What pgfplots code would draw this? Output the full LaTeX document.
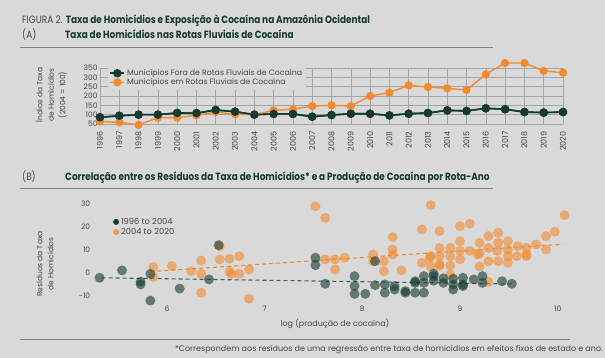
\documentclass[border=0pt]{standalone}
\usepackage{fontspec}
\setmainfont{Poppins}
\newfontfamily\headfont{Poppins}[FakeStretch=0.85]
\usepackage{pgfplots}
\pgfplotsset{compat=1.18}
\definecolor{bg}{RGB}{217,217,217}
\definecolor{dkg}{RGB}{22,58,51}
\definecolor{org}{RGB}{242,138,46}
\definecolor{txt}{RGB}{70,70,70}
\definecolor{gridc}{RGB}{165,165,165}
\definecolor{rulec}{RGB}{130,130,130}
\begin{document}
\begin{tikzpicture}[x=1pt,y=1pt]
\fill[bg] (0,0) rectangle (605,358);
% titles
\node[anchor=base west,inner sep=0,font=\headfont\fontsize{10.5}{12}\selectfont] at (22,334) {\textcolor{txt}{FIGURA 2.} \textcolor{dkg}{\bfseries Taxa de Homicídios e Exposição à Cocaína na Amazônia Ocidental}};
\node[anchor=base west,inner sep=0,font=\headfont\fontsize{10.5}{12}\selectfont,text=txt] at (22,319) {(A)};
\node[anchor=base west,inner sep=0,font=\headfont\fontsize{10.5}{12}\selectfont\bfseries,text=dkg] at (65,319) {Taxa de Homicídios nas Rotas Fluviais de Cocaína};
\draw[rulec,line width=0.7pt] (20,311) -- (493,311);
\node[anchor=base west,inner sep=0,font=\headfont\fontsize{10.5}{12}\selectfont,text=txt] at (22,177.5) {(B)};
\node[anchor=base west,inner sep=0,font=\headfont\fontsize{10.5}{12}\selectfont\bfseries,text=dkg] at (65,177.5) {Correlação entre os Resíduos da Taxa de Homicídios* e a Produção de Cocaína por Rota-Ano};
\draw[rulec,line width=0.7pt] (20,169.5) -- (493,169.5);
\draw[rulec,line width=0.7pt] (20,19) -- (570,19);
\node[anchor=base east,inner sep=0,font=\fontsize{8}{9}\selectfont,text=txt] at (603,6) {*Correspondem aos resíduos de uma regressão entre taxa de homicídios em efeitos fixos de estado e ano.};
\node[font=\fontsize{8}{9}\selectfont,text=txt] at (335,34) {log (produção de cocaína)};
\node[rotate=90,align=center,font=\fontsize{7.5}{11.5}\selectfont,text=txt] at (51,263) {Índice da Taxa\\de Homicídios\\(2004 = 100)};
\node[rotate=90,align=center,font=\fontsize{7.5}{11}\selectfont,text=txt] at (45,94) {Resíduos da Taxa\\de Homicídios};

% Panel A
\begin{axis}[at={(100pt,234pt)},anchor=south west,scale only axis,
  width=463pt,height=56pt,xmin=1996,xmax=2020,ymin=50,ymax=350,
  xtick={1996,...,2020},ytick={50,100,...,350},
  grid=major,major grid style={gridc,line width=0.5pt},
  axis line style={draw=none},major tick length=0pt,clip=false,
  /pgf/number format/assume math mode=true,
  xticklabel shift=4pt,
  x tick label style={/pgf/number format/1000 sep={},rotate=90,anchor=east,font=\fontsize{8}{8}\selectfont,text=txt},
  y tick label style={font=\fontsize{7.5}{8}\selectfont,text=txt,xshift=1pt},
  legend style={at={(0.017,1.04)},anchor=north west,fill=bg,draw=none,
    font=\fontsize{7.8}{9}\selectfont,text=txt,inner sep=1.5pt,row sep=-2.5pt,
    /tikz/every even column/.append style={column sep=2pt}},
  legend cell align=left,
  legend image code/.code={\draw[mark repeat=2,mark phase=2,#1] plot coordinates {(0pt,0pt) (7pt,0pt) (14pt,0pt)};},
]
\addplot[dkg,line width=1.6pt,mark=*,mark size=3.4pt] coordinates {
(1996,86)(1997,94)(1998,100)(1999,100)(2000,109)(2001,108)(2002,125)(2003,116)(2004,100)(2005,104)(2006,104)(2007,89)(2008,98)(2009,105)(2010,105)(2011,96)(2012,105)(2013,109)(2014,123)(2015,120)(2016,134)(2017,129)(2018,114)(2019,111)(2020,114)};
\addlegendentry{Municípios Fora de Rotas Fluviais de Cocaína}
\addplot[org,line width=1.4pt,mark=*,mark size=3.4pt] coordinates {
(1996,63)(1997,59)(1998,45)(1999,84)(2000,84)(2001,96)(2002,114)(2003,102)(2004,100)(2005,123)(2006,129)(2007,146)(2008,150)(2009,146)(2010,200)(2011,218)(2012,257)(2013,248)(2014,241)(2015,232)(2016,316)(2017,377)(2018,377)(2019,334)(2020,325)};
\addlegendentry{Municípios em Rotas Fluviais de Cocaína}
\addplot[dkg,line width=1.6pt,mark=*,mark size=3.4pt,forget plot] coordinates {
(1996,86)(1997,94)(1998,100)(1999,100)(2000,109)(2001,108)(2002,125)(2003,116)(2004,100)(2005,104)(2006,104)(2007,89)(2008,98)(2009,105)(2010,105)(2011,96)(2012,105)(2013,109)(2014,123)(2015,120)(2016,134)(2017,129)(2018,114)(2019,111)(2020,114)};
\end{axis}

% Panel B
\begin{axis}[at={(93.7pt,55.6pt)},anchor=south west,scale only axis,
  width=478.7pt,height=98.9pt,xmin=5.25,xmax=10.15,ymin=-13,ymax=30,
  xtick={6,7,8,9,10},ytick={-10,0,10,20,30},
  axis line style={draw=none},major tick length=0pt,clip=false,
  /pgf/number format/assume math mode=true,
  x tick label style={font=\fontsize{7.5}{8}\selectfont,text=txt},
  y tick label style={font=\fontsize{7.5}{8}\selectfont,text=txt},
  legend style={at={(0.038,0.885)},anchor=north west,fill=none,draw=none,
    font=\fontsize{8.3}{9}\selectfont,text=txt,inner sep=1pt,row sep=-1.5pt},
  legend cell align=left,
]
\addlegendimage{only marks,mark=*,mark size=3pt,color=dkg,mark options={draw opacity=0}}
\addlegendentry{1996 to 2004}
\addlegendimage{only marks,mark=*,mark size=3pt,color=org,mark options={draw opacity=0,fill opacity=0.85}}
\addlegendentry{2004 to 2020}
\addplot[only marks,mark=*,mark size=5pt,color=org,mark options={fill opacity=0.6,draw opacity=0},forget plot] coordinates {
(5.86,2.3)(5.86,-2.0)(6.05,2.8)(6.25,0.6)(6.35,5.2)(6.35,-0.6)(6.35,-8.8)(6.54,11.4)(6.54,5.7)(6.64,6.0)(6.64,0.3)(6.66,-0.6)(6.74,7.1)(6.74,-0.6)(6.84,1.3)(6.84,-11.4)
(7.52,28.8)(7.62,23.8)(7.62,5.7)(7.72,5.7)(7.72,1.3)(7.82,6.4)(8.11,7.8)(8.11,4.9)(8.22,4.9)(8.22,0.6)(8.31,15.4)(8.31,10.0)(8.31,7.8)(8.40,0.9)
(8.61,18.7)(8.61,4.2)(8.70,29.3)(8.70,7.1)(8.70,2.7)(8.69,6.4)(8.79,18.0)(8.79,10.7)(8.79,7.1)(8.79,3.0)(8.79,3.5)(8.90,10.7)(8.90,7.1)(8.90,3.0)(8.90,-0.9)
(9.00,20.1)(9.00,13.6)(9.00,9.4)(9.00,5.7)(9.10,21.2)(9.10,9.4)(9.20,12.9)(9.20,8.4)(9.20,2.6)(9.18,7.8)(9.29,15.8)(9.29,10.7)(9.29,4.9)(9.29,-4.1)
(9.39,17.3)(9.39,12.9)(9.39,4.9)(9.38,9.4)(9.49,13.6)(9.49,9.9)(9.49,7.1)(9.49,4.2)(9.59,11.4)(9.58,7.1)(9.68,10.7)(9.68,7.8)(9.68,7.1)(9.78,12.2)(9.88,15.8)(9.88,10.0)(9.97,17.7)(10.07,24.9)};
\addplot[only marks,mark=*,mark size=5pt,color=dkg,mark options={fill opacity=0.6,draw opacity=0},forget plot] coordinates {
(5.31,-2.3)(5.54,0.9)(5.73,-4.0)(5.73,-5.2)(5.83,-12.2)(5.83,-0.6)(6.13,-7.0)(6.43,-3.0)(6.53,11.9)
(7.52,6.4)(7.52,3.2)(7.62,-4.9)(7.92,-1.6)(7.92,-5.9)(7.92,-9.3)(8.03,-9.3)(8.13,-5.5)(8.13,4.9)(8.23,-5.2)(8.23,-8.8)(8.33,-7.4)(8.33,-5.9)
(8.44,-8.8)(8.44,-8.1)(8.54,-3.8)(8.54,-8.8)(8.54,-4.5)(8.63,-1.6)(8.63,-4.5)(8.63,-8.8)(8.73,-1.6)(8.73,-3.6)(8.73,-0.5)(8.83,-4.5)(8.83,-2.5)
(8.93,-5.2)(8.93,-2.7)(8.93,-7.4)(9.03,-2.3)(9.03,-5.2)(9.03,-5.9)(9.14,-3.0)(9.23,-1.6)(9.23,-4.5)(9.43,-3.8)(9.53,-4.9)};
\addplot[dkg!80,line width=1.1pt,dash pattern=on 4pt off 3pt,forget plot] coordinates {(5.33,-2.3)(9.53,-5.0)};
\addplot[org,line width=1.1pt,dash pattern=on 4pt off 3pt,forget plot] coordinates {(5.83,0.4)(10.05,12.3)};
\end{axis}
\end{tikzpicture}
\end{document}
